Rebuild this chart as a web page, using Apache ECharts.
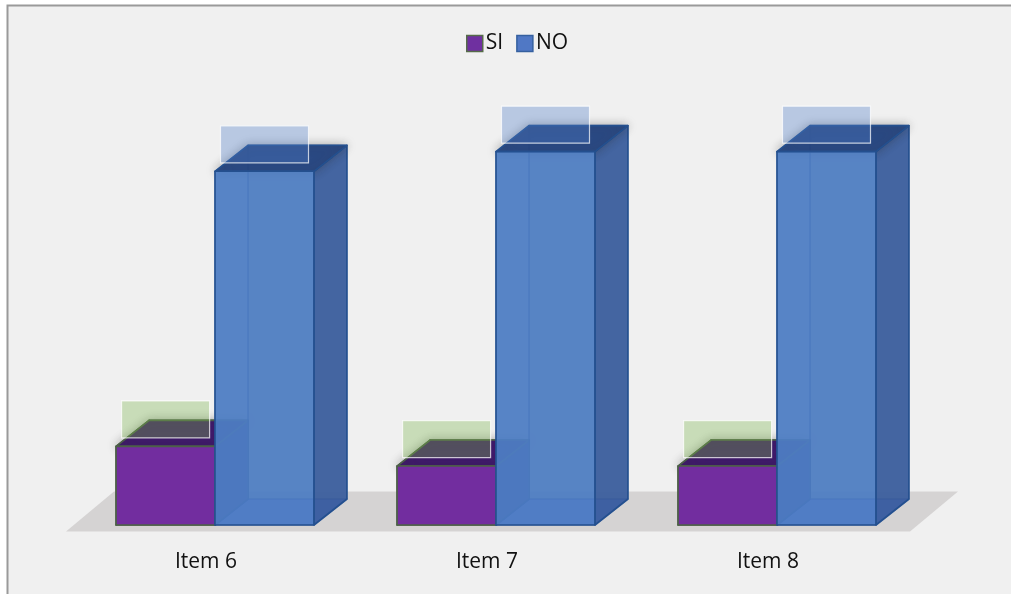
<!DOCTYPE html>
<html>
<head>
<meta charset="utf-8">
<style>html,body{margin:0;padding:0;background:#fff}#chart{width:1011px;height:594px}</style>
<script src="https://cdn.jsdelivr.net/npm/echarts@6/dist/echarts.min.js"></script>
</head>
<body>
<div id="chart"></div>
<script>
// Answers per questionnaire item
const categories = ['Item 6', 'Item 7', 'Item 8'];
const siValues = [4, 3, 3];
const noValues = [18, 19, 19];

// Box depth projection, in pixels
const DEPTH_X = 33, DEPTH_Y = -26;
const BAR_RATIO = 0.352;

const palettes = {
  si: {
    front: '#722d9f', left: 'rgba(80,30,130,0.9)', back: 'rgba(90,40,140,0.9)', floor: '#6a2a95',
    right: '#3f2a86', top: '#3f1a6a', edge: '#4d6048', innerEdge: '#4d6048',
    glass: 'rgba(123,182,76,0.34)'
  },
  no: {
    front: 'rgba(76,124,194,0.88)', left: 'rgba(90,140,215,0.5)', back: 'rgba(90,130,190,0.5)',
    floor: 'rgba(50,85,225,0.65)', right: 'rgba(58,92,155,0.9)', top: 'rgba(38,70,130,0.95)',
    edge: '#24508f', innerEdge: 'rgba(45,85,160,0.45)', glass: 'rgba(80,126,200,0.35)'
  }
};

function boxRenderer(pal, side) {
  return function (params, api) {
    const base = api.coord([api.value(0), 0]);
    const topY = api.coord([api.value(0), api.value(1)])[1];
    const w = api.size([1, 0])[0] * BAR_RATIO;
    const x0 = side < 0 ? base[0] - w : base[0];
    const x1 = x0 + w;
    const y0 = base[1];
    const dx = DEPTH_X, dy = DEPTH_Y;
    const poly = (points, fill, stroke, extra) => ({
      type: 'polygon',
      shape: { points },
      style: Object.assign({ fill, stroke, lineWidth: 1.6, lineJoin: 'round' }, extra || {})
    });
    return {
      type: 'group',
      children: [
        poly([[x0 + dx, topY + dy], [x1 + dx, topY + dy], [x1 + dx, y0 + dy], [x0 + dx, y0 + dy]], pal.back, pal.innerEdge),
        poly([[x0, y0], [x0 + dx, y0 + dy], [x0 + dx, topY + dy], [x0, topY]], pal.left, pal.innerEdge),
        poly([[x0, y0], [x1, y0], [x1 + dx, y0 + dy], [x0 + dx, y0 + dy]], pal.floor, pal.innerEdge),
        poly([[x1, y0], [x1 + dx, y0 + dy], [x1 + dx, topY + dy], [x1, topY]], pal.right, pal.edge),
        poly([[x0, topY], [x1, topY], [x1 + dx, topY + dy], [x0 + dx, topY + dy]], pal.top, pal.edge,
          { shadowBlur: 10, shadowColor: 'rgba(40,40,40,0.35)' }),
        poly([[x0, y0], [x1, y0], [x1, topY], [x0, topY]], pal.front, pal.edge),
        {
          type: 'rect',
          shape: { x: x0 + 5.5, y: topY - 45.5, width: 88, height: 37 },
          style: { fill: pal.glass, stroke: 'rgba(255,255,255,0.72)', lineWidth: 1.2 }
        }
      ]
    };
  };
}

const chart = echarts.init(document.getElementById('chart'), null, { renderer: 'canvas' });
chart.setOption({
  animation: false,
  backgroundColor: '#ffffff',
  graphic: [
    {
      type: 'rect', z: -10, silent: true,
      shape: { x: 7.5, y: 5.5, width: 1010, height: 600 },
      style: { fill: '#f0f0f0', stroke: '#9a9a9a', lineWidth: 2 }
    },
    {
      type: 'polygon', z: -9, silent: true,
      shape: { points: [[66, 531.5], [910, 531.5], [958, 491.5], [114, 491.5]] },
      style: { fill: '#d5d3d3' }
    }
  ],
  legend: {
    top: 28, left: 461,
    itemWidth: 16, itemHeight: 16, itemGap: 13,
    icon: 'rect',
    textStyle: { fontFamily: 'Open Sans', fontSize: 21, color: '#111', padding: [0, 0, 0, -2] },
    data: [
      { name: 'SI', itemStyle: { color: '#6f30a0', borderColor: '#566b4a', borderWidth: 1.5 } },
      { name: 'NO', itemStyle: { color: '#5078c5', borderColor: '#35609f', borderWidth: 1.5 } }
    ]
  },
  grid: { left: 74.5, right: 93.5, top: 132, bottom: 69 },
  xAxis: {
    type: 'category',
    data: categories,
    axisLine: { show: false },
    axisTick: { show: false },
    axisLabel: {
      fontFamily: 'Open Sans', fontSize: 21, color: '#111',
      margin: 27, padding: [0, 18, 0, 0]
    }
  },
  yAxis: { type: 'value', min: 0, max: 20, interval: 5, show: false },
  series: [
    {
      name: 'SI', type: 'custom', z: 3,
      renderItem: boxRenderer(palettes.si, -1),
      data: siValues.map((v, i) => [i, v]),
      encode: { x: 0, y: 1 },
      itemStyle: { color: '#6f30a0' }
    },
    {
      name: 'NO', type: 'custom', z: 4,
      renderItem: boxRenderer(palettes.no, 1),
      data: noValues.map((v, i) => [i, v]),
      encode: { x: 0, y: 1 },
      itemStyle: { color: '#5078c5' }
    }
  ]
});
</script>
</body>
</html>
